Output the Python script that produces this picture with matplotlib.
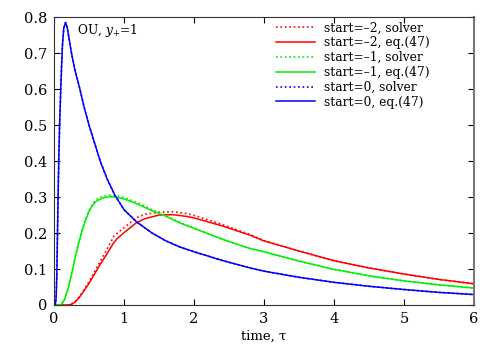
import matplotlib
matplotlib.use("Agg")
import matplotlib.pyplot as plt
import numpy as np
from matplotlib.ticker import FuncFormatter

plt.rcParams['font.family'] = ['DejaVu Serif']
plt.rcParams['mathtext.fontset'] = 'dejavuserif'

# start = 0 (eq.47 and solver are on top of each other)
tau_0 = [0.0, 0.02, 0.03, 0.04, 0.05, 0.06, 0.07, 0.08, 0.10, 0.12, 0.14, 0.165,
         0.19, 0.22, 0.25, 0.30, 0.37, 0.43, 0.50, 0.58, 0.66, 0.76, 0.87, 1.0,
         1.18, 1.4, 1.6, 1.8, 2.0, 2.4, 2.8, 3.0, 3.5, 4.0, 4.5, 5.0, 5.5, 6.0]
eq_0 = [0.0, 0.002, 0.02, 0.08, 0.2, 0.32, 0.42, 0.5, 0.62, 0.72, 0.77, 0.785,
        0.77, 0.735, 0.70, 0.652, 0.60, 0.55, 0.50, 0.45, 0.40, 0.35, 0.305, 0.265,
        0.231, 0.20, 0.178, 0.161, 0.148, 0.124, 0.103, 0.094, 0.077, 0.063, 0.052,
        0.043, 0.035, 0.029]
solver_0 = eq_0

# start = -1
tau_1 = [0.0, 0.08, 0.10, 0.15, 0.20, 0.25, 0.30, 0.35, 0.40, 0.45, 0.50, 0.55,
         0.60, 0.70, 0.80, 0.90, 1.0, 1.2, 1.4, 1.56, 1.8, 2.0, 2.4, 2.8, 3.0,
         3.5, 4.0, 4.5, 5.0, 5.5, 6.0]
eq_1 = [0.0, 0.0, 0.001, 0.015, 0.045, 0.085, 0.13, 0.17, 0.205, 0.235, 0.26, 0.277,
        0.288, 0.298, 0.301, 0.299, 0.295, 0.28, 0.262, 0.25, 0.228, 0.213, 0.183,
        0.157, 0.148, 0.122, 0.099, 0.081, 0.067, 0.056, 0.047]
solver_1 = [0.0, 0.0, 0.001, 0.015, 0.045, 0.086, 0.131, 0.172, 0.208, 0.238, 0.263, 0.281,
            0.293, 0.303, 0.305, 0.303, 0.299, 0.284, 0.265, 0.252, 0.229, 0.214, 0.183,
            0.157, 0.148, 0.122, 0.099, 0.081, 0.067, 0.056, 0.047]

# start = -2
tau_2 = [0.0, 0.2, 0.25, 0.3, 0.35, 0.42, 0.5, 0.6, 0.66, 0.75, 0.85, 0.9, 1.0,
         1.18, 1.3, 1.5, 1.7, 1.9, 2.0, 2.4, 2.8, 3.0, 3.5, 4.0, 4.5, 5.0, 5.5, 6.0]
eq_2 = [0.0, 0.0, 0.002, 0.008, 0.018, 0.037, 0.06, 0.093, 0.113, 0.14, 0.172, 0.184,
        0.201, 0.229, 0.240, 0.250, 0.251, 0.246, 0.242, 0.220, 0.194, 0.178, 0.150,
        0.123, 0.103, 0.086, 0.071, 0.059]
solver_2 = [0.0, 0.0, 0.002, 0.009, 0.02, 0.04, 0.065, 0.10, 0.121, 0.152, 0.190, 0.199,
            0.215, 0.243, 0.252, 0.258, 0.259, 0.254, 0.249, 0.224, 0.196, 0.179, 0.150,
            0.123, 0.103, 0.086, 0.071, 0.059]

red, green, blue = '#ff0000', '#00ee00', '#0000ff'

fig = plt.figure(figsize=(5, 3.5), dpi=100)
ax = fig.add_axes([0.108, 0.1286, 0.84, 0.8224])

ax.plot(tau_2, solver_2, ':', color=red, lw=1.2, label='start=–2, solver')
ax.plot(tau_2, eq_2, '-', color=red, lw=1.1, label='start=–2, eq.(47)')
ax.plot(tau_1, solver_1, ':', color=green, lw=1.2, label='start=–1, solver')
ax.plot(tau_1, eq_1, '-', color=green, lw=1.1, label='start=–1, eq.(47)')
ax.plot(tau_0, solver_0, ':', color=blue, lw=1.2, label='start=0, solver')
ax.plot(tau_0, eq_0, '-', color=blue, lw=1.1, label='start=0, eq.(47)')

ax.set_xlim(0, 6)
ax.set_ylim(0, 0.8)
ax.set_xticks(np.arange(0, 7, 1))
ax.set_yticks(np.arange(0, 0.81, 0.1))
ax.yaxis.set_major_formatter(FuncFormatter(lambda v, p: '%g' % round(v, 1)))
ax.tick_params(direction='in', top=True, right=True, length=4, labelsize=10.5, pad=5)
for s in ax.spines.values():
    s.set_color('#333333')
ax.spines['right'].set_color('#777777')
ax.spines['right'].set_linewidth(1.5)

ax.set_xlabel('time, τ', fontsize=9.5, labelpad=3)
ax.text(0.33, 0.762, r'OU, $y_{+}$=1', fontsize=8.8, va='center')

ax.legend(loc='upper left', bbox_to_anchor=(0.529, 0.985), frameon=False,
          fontsize=8.8, handlelength=3.2, handletextpad=0.75, labelspacing=0.15,
          borderpad=0, borderaxespad=0)

fig.savefig('out.png', dpi=100)
